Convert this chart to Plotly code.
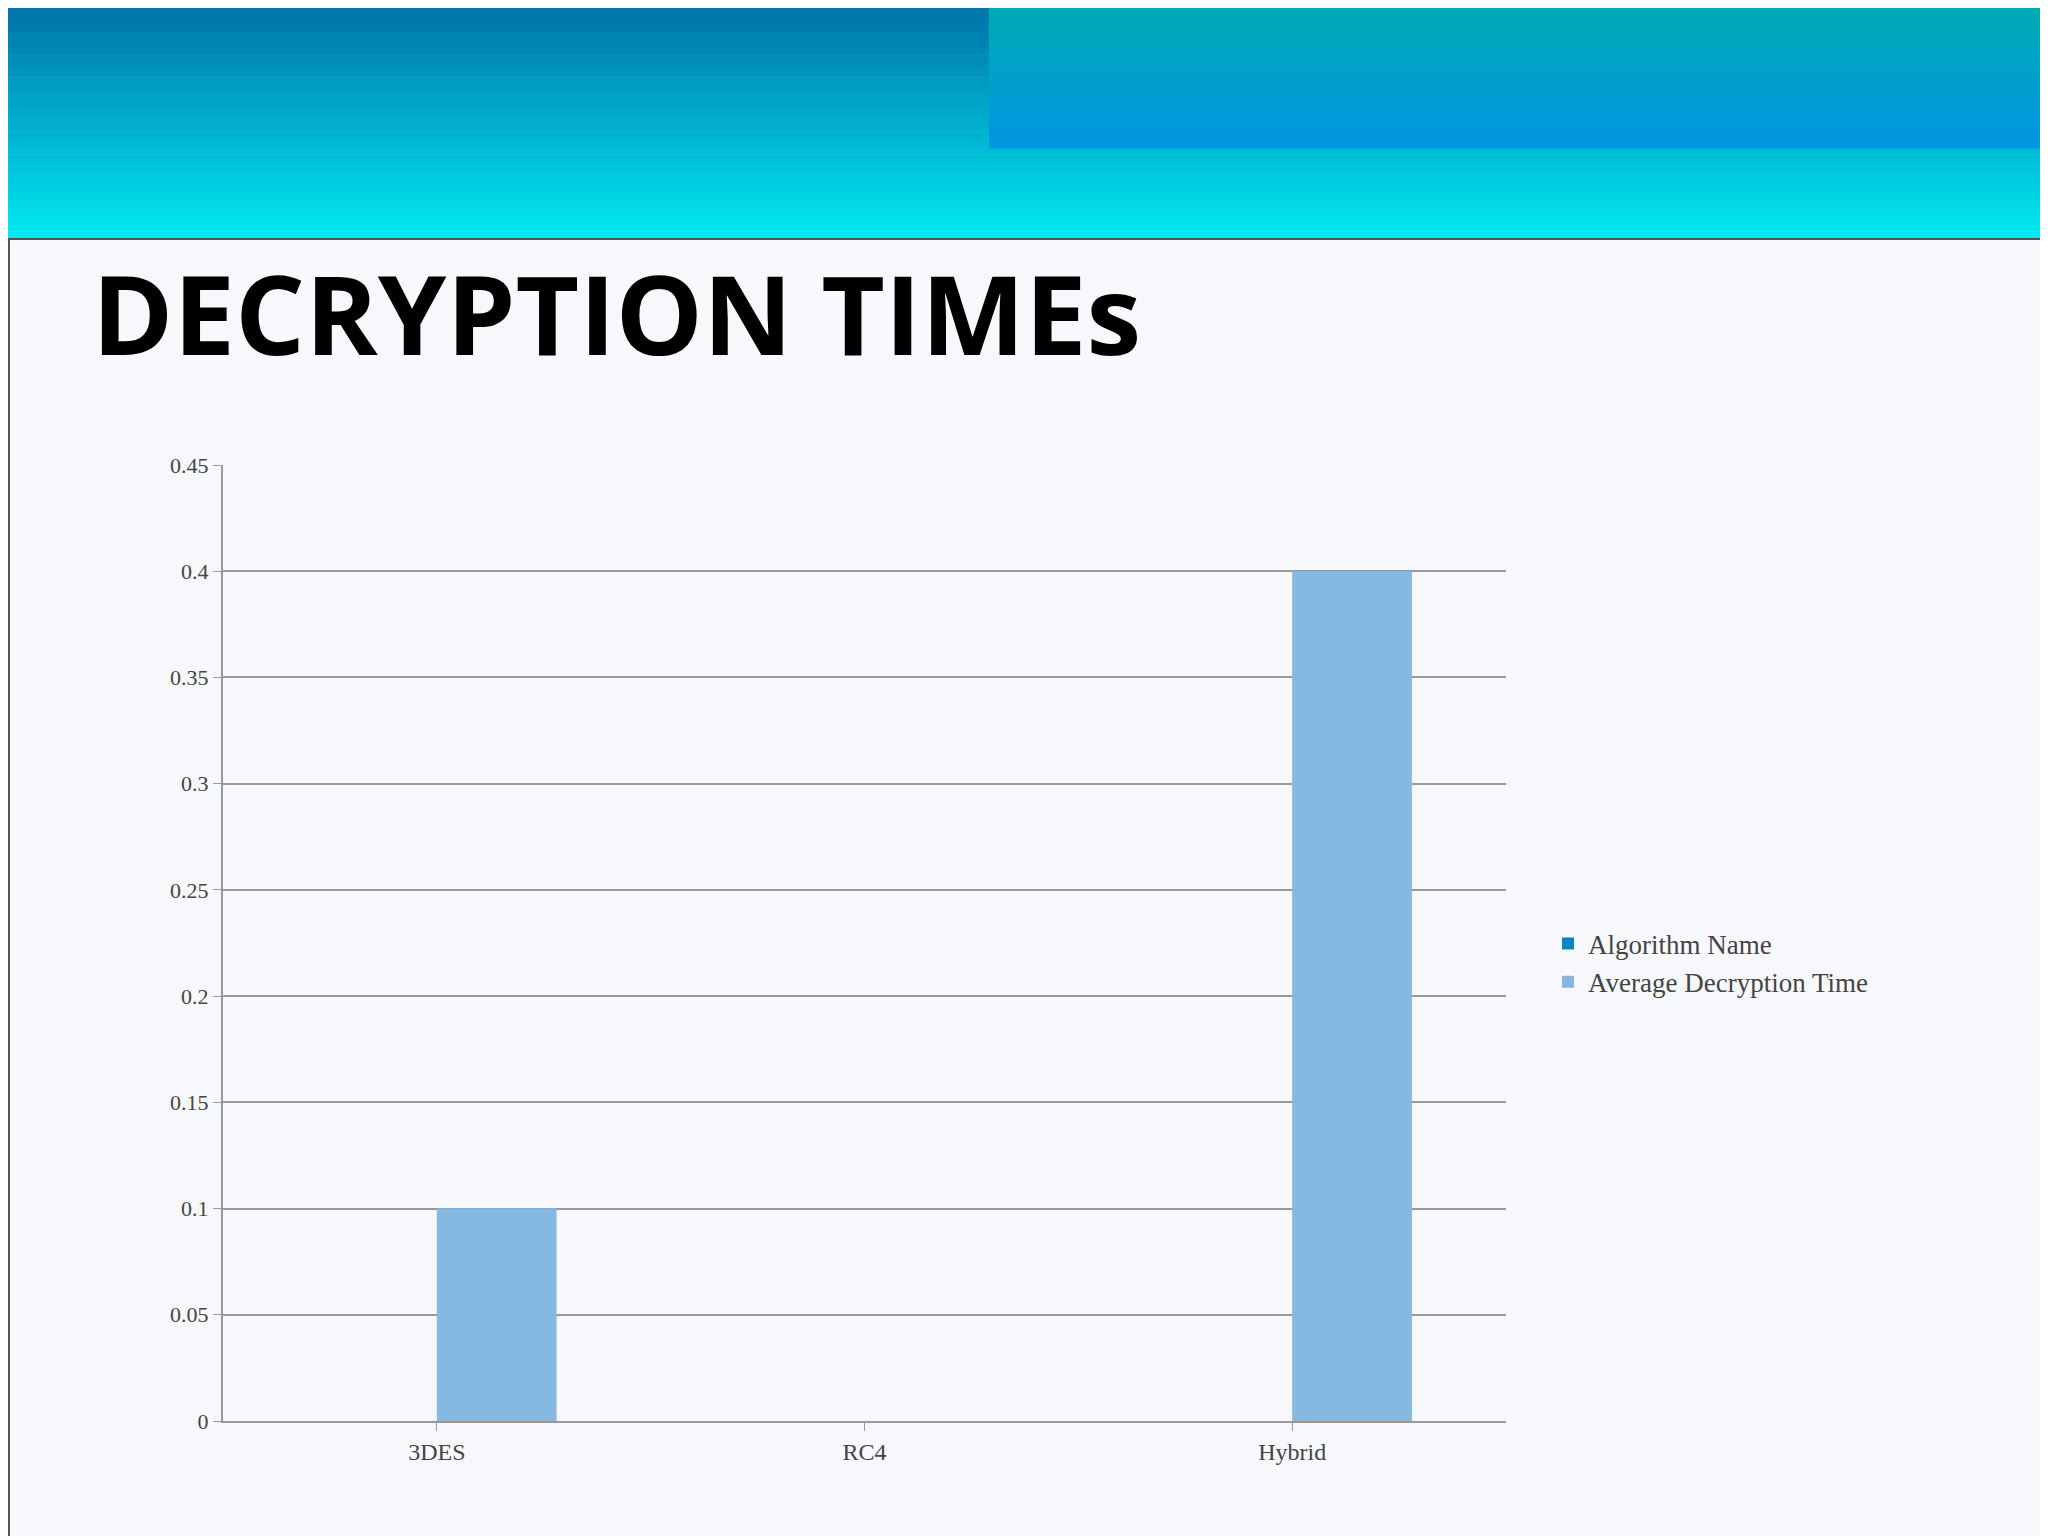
import plotly.graph_objects as go

categories = ["3DES", "RC4", "Hybrid"]
algorithm_name = [0, 0, 0]
avg_decryption = [0.1, 0, 0.4]
y_ticks = [0, 0.05, 0.1, 0.15, 0.2, 0.25, 0.3, 0.35, 0.4, 0.45]
y_labels = ["0", "0.05", "0.1", "0.15", "0.2", "0.25", "0.3", "0.35", "0.4", "0.45"]

W, H = 2048, 1536
L, R, T, B = 215, 1498, 457, 1413
PW, PH = R - L, B - T


def px(x):
    return (x - L) / PW


def py(y):
    return (B - y) / PH


fig = go.Figure()
fig.add_trace(go.Bar(x=categories, y=algorithm_name, name="Algorithm Name",
                     marker_color="#0a86bf", marker_line_width=0))
fig.add_trace(go.Bar(x=categories, y=avg_decryption, name="Average Decryption Time",
                     marker_color="#85b9e2", marker_line_width=0))

shapes = []
# header gradient approximation
top_l = (0, 118, 170)
bot = (0, 232, 240)
n = 30
hh = 231
for i in range(n):
    t = i / (n - 1)
    c = tuple(int(top_l[k] + (bot[k] - top_l[k]) * t) for k in range(3))
    shapes.append(dict(type="rect", xref="paper", yref="paper", layer="below",
                       x0=px(0), x1=px(W), y0=py((i + 1) * hh / n + 0.5), y1=py(i * hh / n),
                       fillcolor="rgb(%d,%d,%d)" % c, line_width=0))
top_r = (0, 170, 180)
bot_r = (0, 150, 225)
hr = 140
for i in range(14):
    t = i / 13
    c = tuple(int(top_r[k] + (bot_r[k] - top_r[k]) * t) for k in range(3))
    shapes.append(dict(type="rect", xref="paper", yref="paper", layer="below",
                       x0=px(981), x1=px(W), y0=py((i + 1) * hr / 14 + 0.5), y1=py(i * hr / 14),
                       fillcolor="rgb(%d,%d,%d)" % c, line_width=0))
# slide border
shapes.append(dict(type="rect", xref="paper", yref="paper", x0=px(1), x1=px(W - 2),
                   y0=py(H - 2), y1=py(hh), line=dict(color="#555", width=2), layer="below"))

fig.update_layout(
    width=W, height=H,
    paper_bgcolor="#f7f8fb", plot_bgcolor="rgba(0,0,0,0)",
    margin=dict(l=L, r=W - R, t=T, b=H - B),
    barmode="group", bargap=0.44, bargroupgap=0,
    font=dict(family="Liberation Serif", size=22, color="#333"),
    showlegend=True,
    legend=dict(x=px(1540), y=py(955), xanchor="left", yanchor="middle",
                font=dict(family="Liberation Serif", size=27, color="#444"),
                itemwidth=30),
    shapes=shapes,
    annotations=[dict(text="<b>DECRYPTION TIMEs</b>", xref="paper", yref="paper",
                      x=px(82), y=py(304),
                      xanchor="left", yanchor="middle", showarrow=False,
                      font=dict(family="Open Sans", size=110, color="#000"))],
    xaxis=dict(showgrid=False, showline=True, linecolor="#999", linewidth=2,
               ticks="outside", tickcolor="#999", ticklen=8,
               tickfont=dict(size=24, color="#444")),
    yaxis=dict(range=[0, 0.45], tickvals=y_ticks, ticktext=y_labels,
               showgrid=True, gridcolor="#999", gridwidth=2,
               showline=True, linecolor="#999", linewidth=2,
               ticks="outside", tickcolor="#999", ticklen=8,
               tickfont=dict(size=22, color="#444"), zeroline=False),
)
fig.write_html("out.html")
